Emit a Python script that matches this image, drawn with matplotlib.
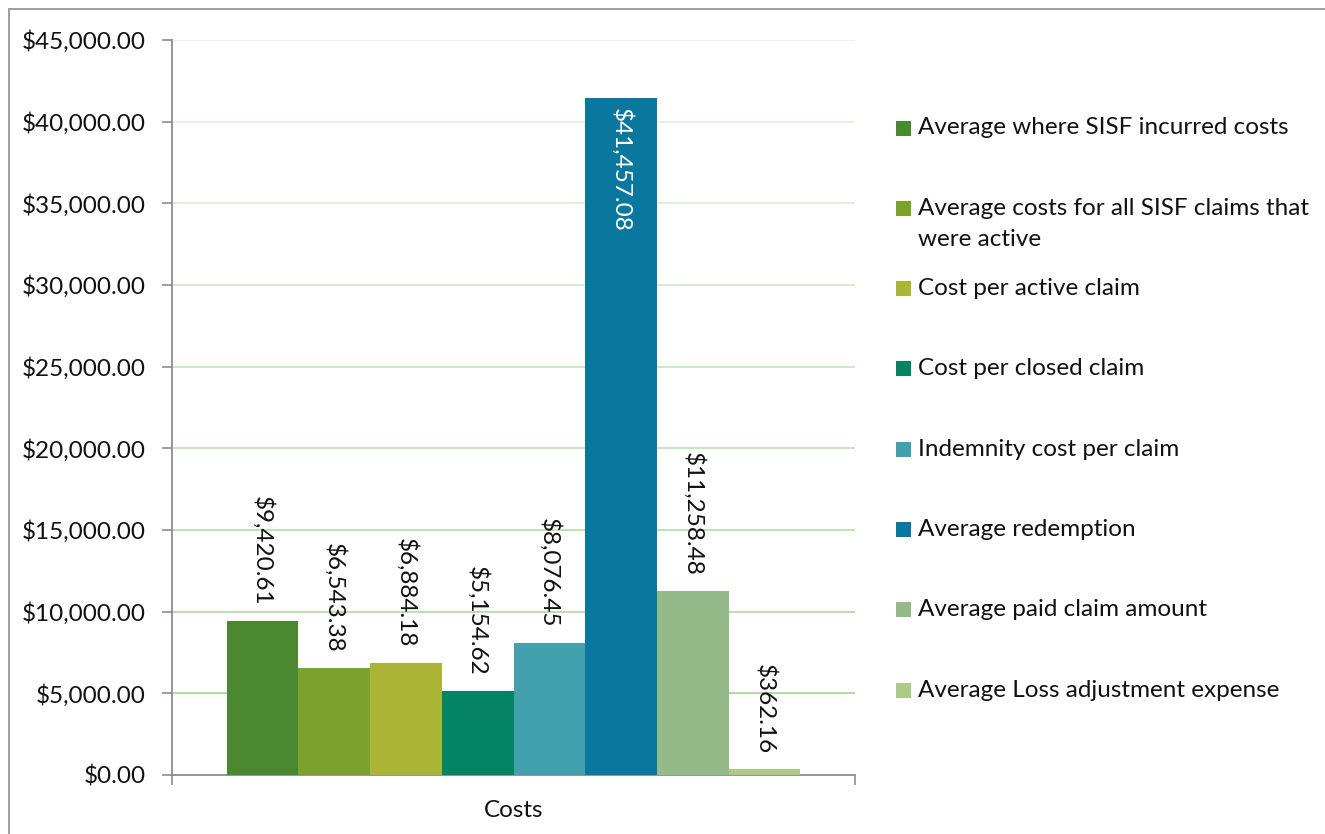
import matplotlib
matplotlib.use("Agg")
import matplotlib.pyplot as plt
from matplotlib.patches import Rectangle
from matplotlib.ticker import FuncFormatter
import numpy as np

plt.rcParams['font.family'] = ['Lato', 'DejaVu Sans']

category = "Costs"
series = [
    "Average where SISF incurred costs",
    "Average costs for all SISF claims that\nwere active",
    "Cost per active claim",
    "Cost per closed claim",
    "Indemnity cost per claim",
    "Average redemption",
    "Average paid claim amount",
    "Average Loss adjustment expense",
]
values = [9420.61, 6543.38, 6884.18, 5154.62, 8076.45, 41457.08, 11258.48, 362.16]
colors = ["#4a8930", "#7aa22c", "#aab535", "#058465", "#43a0ae", "#0a789e", "#95ba8a", "#adca86"]
yticks = [0, 5000, 10000, 15000, 20000, 25000, 30000, 35000, 40000, 45000]

FS = 17.5
W, H = 1325, 834
fig = plt.figure(figsize=(W / 100, H / 100), dpi=100)
ax = fig.add_axes([172 / W, 1 - 775 / H, (855 - 172) / W, (775 - 40) / H])

# figure border
fig.patches.append(Rectangle((8.5 / W, -0.05), 1.2, (H - 8.5) / H + 0.05,
                             transform=fig.transFigure, fill=False,
                             edgecolor="#8c8c8c", linewidth=1.2))

n = len(values)
group = 0.84
bw = group / n
xs = -group / 2 + bw / 2 + np.arange(n) * bw
bars = ax.bar(xs, values, width=bw, color=colors, zorder=3, linewidth=0)

ax.set_xlim(-0.5, 0.5)
ax.set_ylim(0, 45000)

# gridlines with a light fade upward
gcol = "#a9d99a"
for i, t in enumerate(yticks[1:]):
    a = 1.0 - 0.75 * i / (len(yticks) - 2)
    ax.axhline(t, color=gcol, alpha=a, linewidth=1.3, zorder=1)

ax.set_yticks(yticks)
ax.yaxis.set_major_formatter(FuncFormatter(lambda v, p: f"${v:,.2f}"))
ax.tick_params(axis='y', length=7, width=1.2, color="#8c8c8c", labelsize=FS,
               labelcolor="#111111", pad=12)
ax.set_xticks([0])
ax.set_xticklabels([category])
ax.tick_params(axis='x', which='major', length=0, labelsize=FS, pad=18, labelcolor="#111111")
ax.set_xticks([-0.5, 0.5], minor=True)
ax.tick_params(axis='x', which='minor', length=7, width=1.2, color="#8c8c8c", direction='out')

for s in ["top", "right"]:
    ax.spines[s].set_visible(False)
for s in ["left", "bottom"]:
    ax.spines[s].set_color("#8c8c8c")
    ax.spines[s].set_linewidth(1.3)

vmax = max(values)
for b, v in zip(bars, values):
    cx = b.get_x() + b.get_width() / 2
    if v == vmax:
        ax.annotate(f"${v:,.2f}", (cx, v), xytext=(0, -7), textcoords="offset points",
                    rotation=-90, ha="center", va="top", color="white", fontsize=FS, zorder=4)
    else:
        ax.annotate(f"${v:,.2f}", (cx, v), xytext=(0, 11), textcoords="offset points",
                    rotation=-90, ha="center", va="bottom", color="#111111", fontsize=FS, zorder=4)

# legend (manual, marker aligned with first line)
y0 = 128
step = 80.3
for i, (lab, c) in enumerate(zip(series, colors)):
    yc = y0 + i * step
    fig.patches.append(Rectangle((896 / W, 1 - (yc + 7.5) / H), 15 / W, 15 / H,
                                 transform=fig.transFigure, facecolor=c, edgecolor="none"))
    for k, line in enumerate(lab.split("\n")):
        fig.text(918 / W, 1 - (yc + k * 31) / H, line, ha="left", va="center",
                 fontsize=FS, color="#111111")

fig.savefig("out.png", dpi=100)
